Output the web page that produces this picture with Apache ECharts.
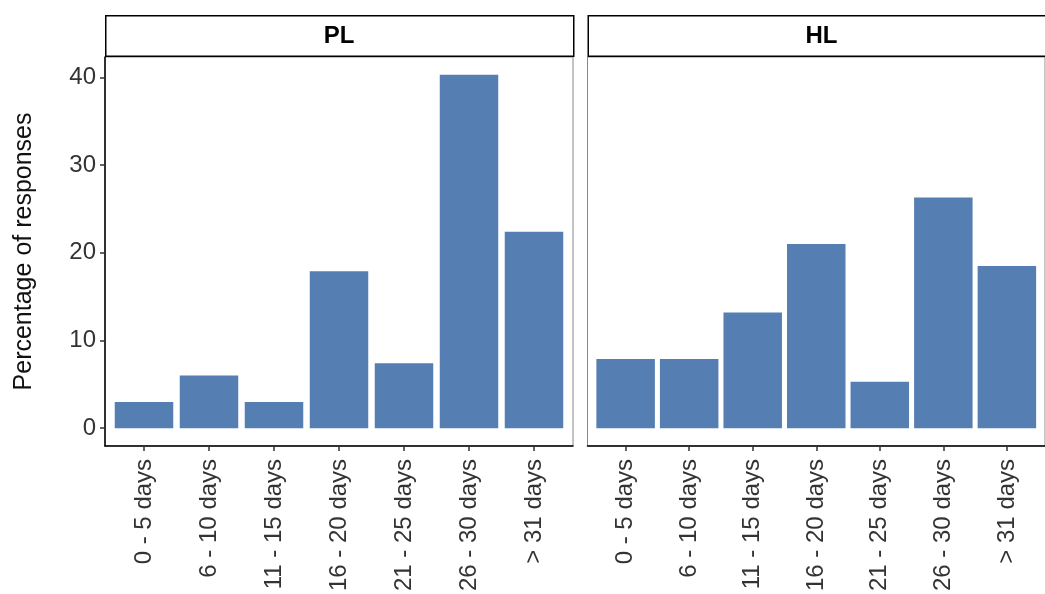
<!DOCTYPE html>
<html>
<head>
<meta charset="utf-8">
<script src="https://cdn.jsdelivr.net/npm/echarts@6/dist/echarts.min.js"></script>
<style>
html,body{margin:0;padding:0;background:#fff;}
#chart{width:1045px;height:594px;}
</style>
</head>
<body>
<div id="chart"></div>
<script>
const categories = ['0 - 5 days','6 - 10 days','11 - 15 days','16 - 20 days','21 - 25 days','26 - 30 days','> 31 days'];
const panels = ['PL','HL'];
const plValues = [3.0, 6.0, 3.0, 17.9, 7.4, 40.3, 22.4];
const hlValues = [7.9, 7.9, 13.2, 21.0, 5.3, 26.3, 18.5];
const yTicks = [0, 10, 20, 30, 40];
const yTitle = 'Percentage of responses';

const FONT = 'Liberation Sans, Arial, Helvetica, sans-serif';
const barColor = '#557EB3';
const idx = categories.map((c,i)=>i);
const yMax = Math.max(...plValues, ...hlValues);
const yPad = yMax * 0.05;

const chart = echarts.init(document.getElementById('chart'), null, {renderer:'canvas'});

const panelLeft = [105, 587.5];
const panelW = 468;
const panelTop = 57;
const panelH = 389;

function xAxis(gi){
  return {
    type:'value', gridIndex: gi, min:-0.6, max: categories.length - 1 + 0.6,
    splitLine:{show:false},
    axisLine:{show:true, onZero:false, lineStyle:{color:'#000', width:1.5}},
    axisTick:{show:true, customValues: idx, length:5, lineStyle:{color:'#333', width:1.5}},
    axisLabel:{show:true, customValues: idx, rotate:90, margin:13, fontSize:24, fontFamily:FONT, color:'#333',
      formatter:(v)=>categories[Math.round(v)] || ''}
  };
}
function yAxis(gi, showIt){
  return {
    type:'value', gridIndex: gi, min: -yPad, max: yMax + yPad,
    splitLine:{show:false},
    axisLine:{show:showIt, onZero:false, lineStyle:{color:'#000', width:1.5}},
    axisTick:{show:showIt, customValues: yTicks, length:5, lineStyle:{color:'#333', width:1.5}},
    axisLabel:{show:showIt, customValues: yTicks, margin:9, fontSize:24, fontFamily:FONT, color:'#333'},
    name: showIt ? yTitle : '', nameLocation:'middle', nameGap:68,
    nameTextStyle:{fontSize:25, fontFamily:FONT, color:'#111'}
  };
}

const graphics = [];
panels.forEach((p,i)=>{
  graphics.push({type:'rect', left: panelLeft[i], top: 15, z: 10,
    shape:{width: panelW, height: 40.5},
    style:{fill:'#fff', stroke:'#000', lineWidth:1.5}});
  graphics.push({type:'text', x: panelLeft[i] + panelW/2, y: 36, z: 11,
    style:{text: p, fill:'#000', font:'bold 24px ' + FONT, textAlign:'center', textVerticalAlign:'middle'}});
});

chart.setOption({
  backgroundColor:'#fff',
  animation:false,
  grid: panels.map((p,i)=>({left: panelLeft[i], top: panelTop, width: panelW, height: panelH,
    show:true, borderColor:'#888', borderWidth:1, backgroundColor:'#fff', containLabel:false})),
  xAxis: [xAxis(0), xAxis(1)],
  yAxis: [yAxis(0,true), yAxis(1,false)],
  series: [plValues, hlValues].map((vals,i)=>({
    type:'bar', xAxisIndex:i, yAxisIndex:i, barWidth:58.5,
    data: vals.map((v,j)=>[j, v]),
    itemStyle:{color: barColor}
  })),
  graphic: graphics
});
</script>
</body>
</html>
